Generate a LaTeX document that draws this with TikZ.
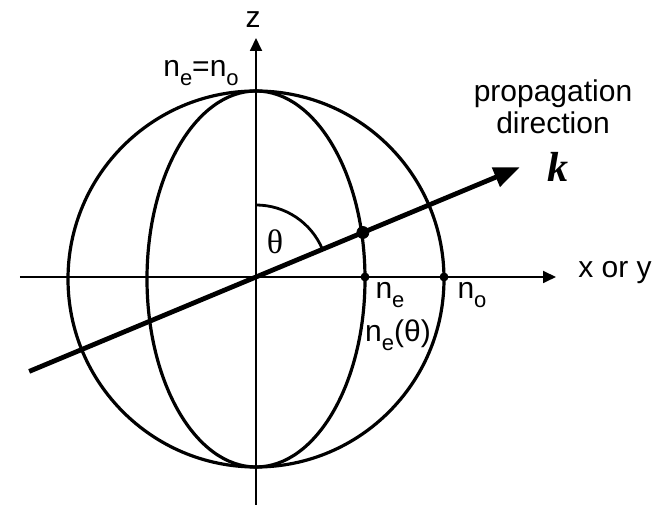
\documentclass[tikz,border=0pt]{standalone}
\usepackage{fontspec}
\setmainfont{Liberation Sans}
\newfontfamily\serifface{Liberation Serif}
\usetikzlibrary{arrows.meta}
\newcommand{\lowsub}[1]{\raisebox{-0.6ex}{\fontsize{11}{11}\selectfont #1}}
\tikzset{
  axis/.style={line width=0.9pt,-{Triangle[length=6.5pt,width=6pt]}},
  shell/.style={line width=1.6pt},
  wave/.style={line width=2.4pt,-{Triangle[length=13pt,width=10pt]}},
  lbl/.style={font=\fontsize{15}{16}\selectfont,inner sep=0pt}
}

\begin{document}
\begin{tikzpicture}[x=0.5pt,y=0.5pt]
 \useasboundingbox (-256,-235) rectangle (396,277);

 \coordinate (o)  at (0,0);
 \coordinate (zb) at (0,-228);
 \coordinate (zt) at (0,239);
 \coordinate (xl) at (-236,0);
 \coordinate (xr) at (300,0);
 \coordinate (kb) at (202.6:245.7);
 \coordinate (kt) at (22.6:285.8);
 \coordinate (a1) at (90:72);

% SURFACES
 \draw[shell] (0,-2) circle[radius=188];  % n_o
 \draw[shell] (0,-2) ellipse[x radius=109,y radius=188];  % n_e(theta)

% AXES
 \draw[axis] (zb) -- (zt);
 \draw[axis] (xl) -- (xr);

% ARROWS
 \draw[wave] (kb) -- (kt);
 \draw[line width=1.4pt] (a1) arc[start angle=90,end angle=22.6,radius=72];

% POINTS
 \draw[fill] (22.6:115.8) circle (3pt)
   +(0,0) node (ke) {}  % k meets n_e(theta)
  ;
 \draw[fill] (109,0) circle (2pt)
   +(0,0) node (ne) {}
  ;
 \draw[fill] (188,0) circle (2pt)
   +(0,0) node (no) {}
  ;

% NOTES
 \node[lbl] (zl) at (-3,257) {z};
 \node[lbl] (top) at (-55,204) {n\lowsub{e}=n\lowsub{o}};
 \node[lbl,align=center] (prop) at (297,170) {propagation\\direction};
 \node[inner sep=0pt,font=\serifface\bfseries\itshape\fontsize{21}{21}\selectfont] (kl) at (302,110) {k};
 \node[inner sep=0pt,font=\serifface\fontsize{17}{17}\selectfont] (th) at (19,35) {θ};
 \node[lbl] (nel) at (134,-18) {n\lowsub{e}};
 \node[lbl] (nol) at (216,-18) {n\lowsub{o}};
 \node[lbl] (net) at (142,-58) {n\lowsub{e}(θ)};
 \node[lbl] (xy) at (359,4) {x or y};

\end{tikzpicture}
\end{document}
